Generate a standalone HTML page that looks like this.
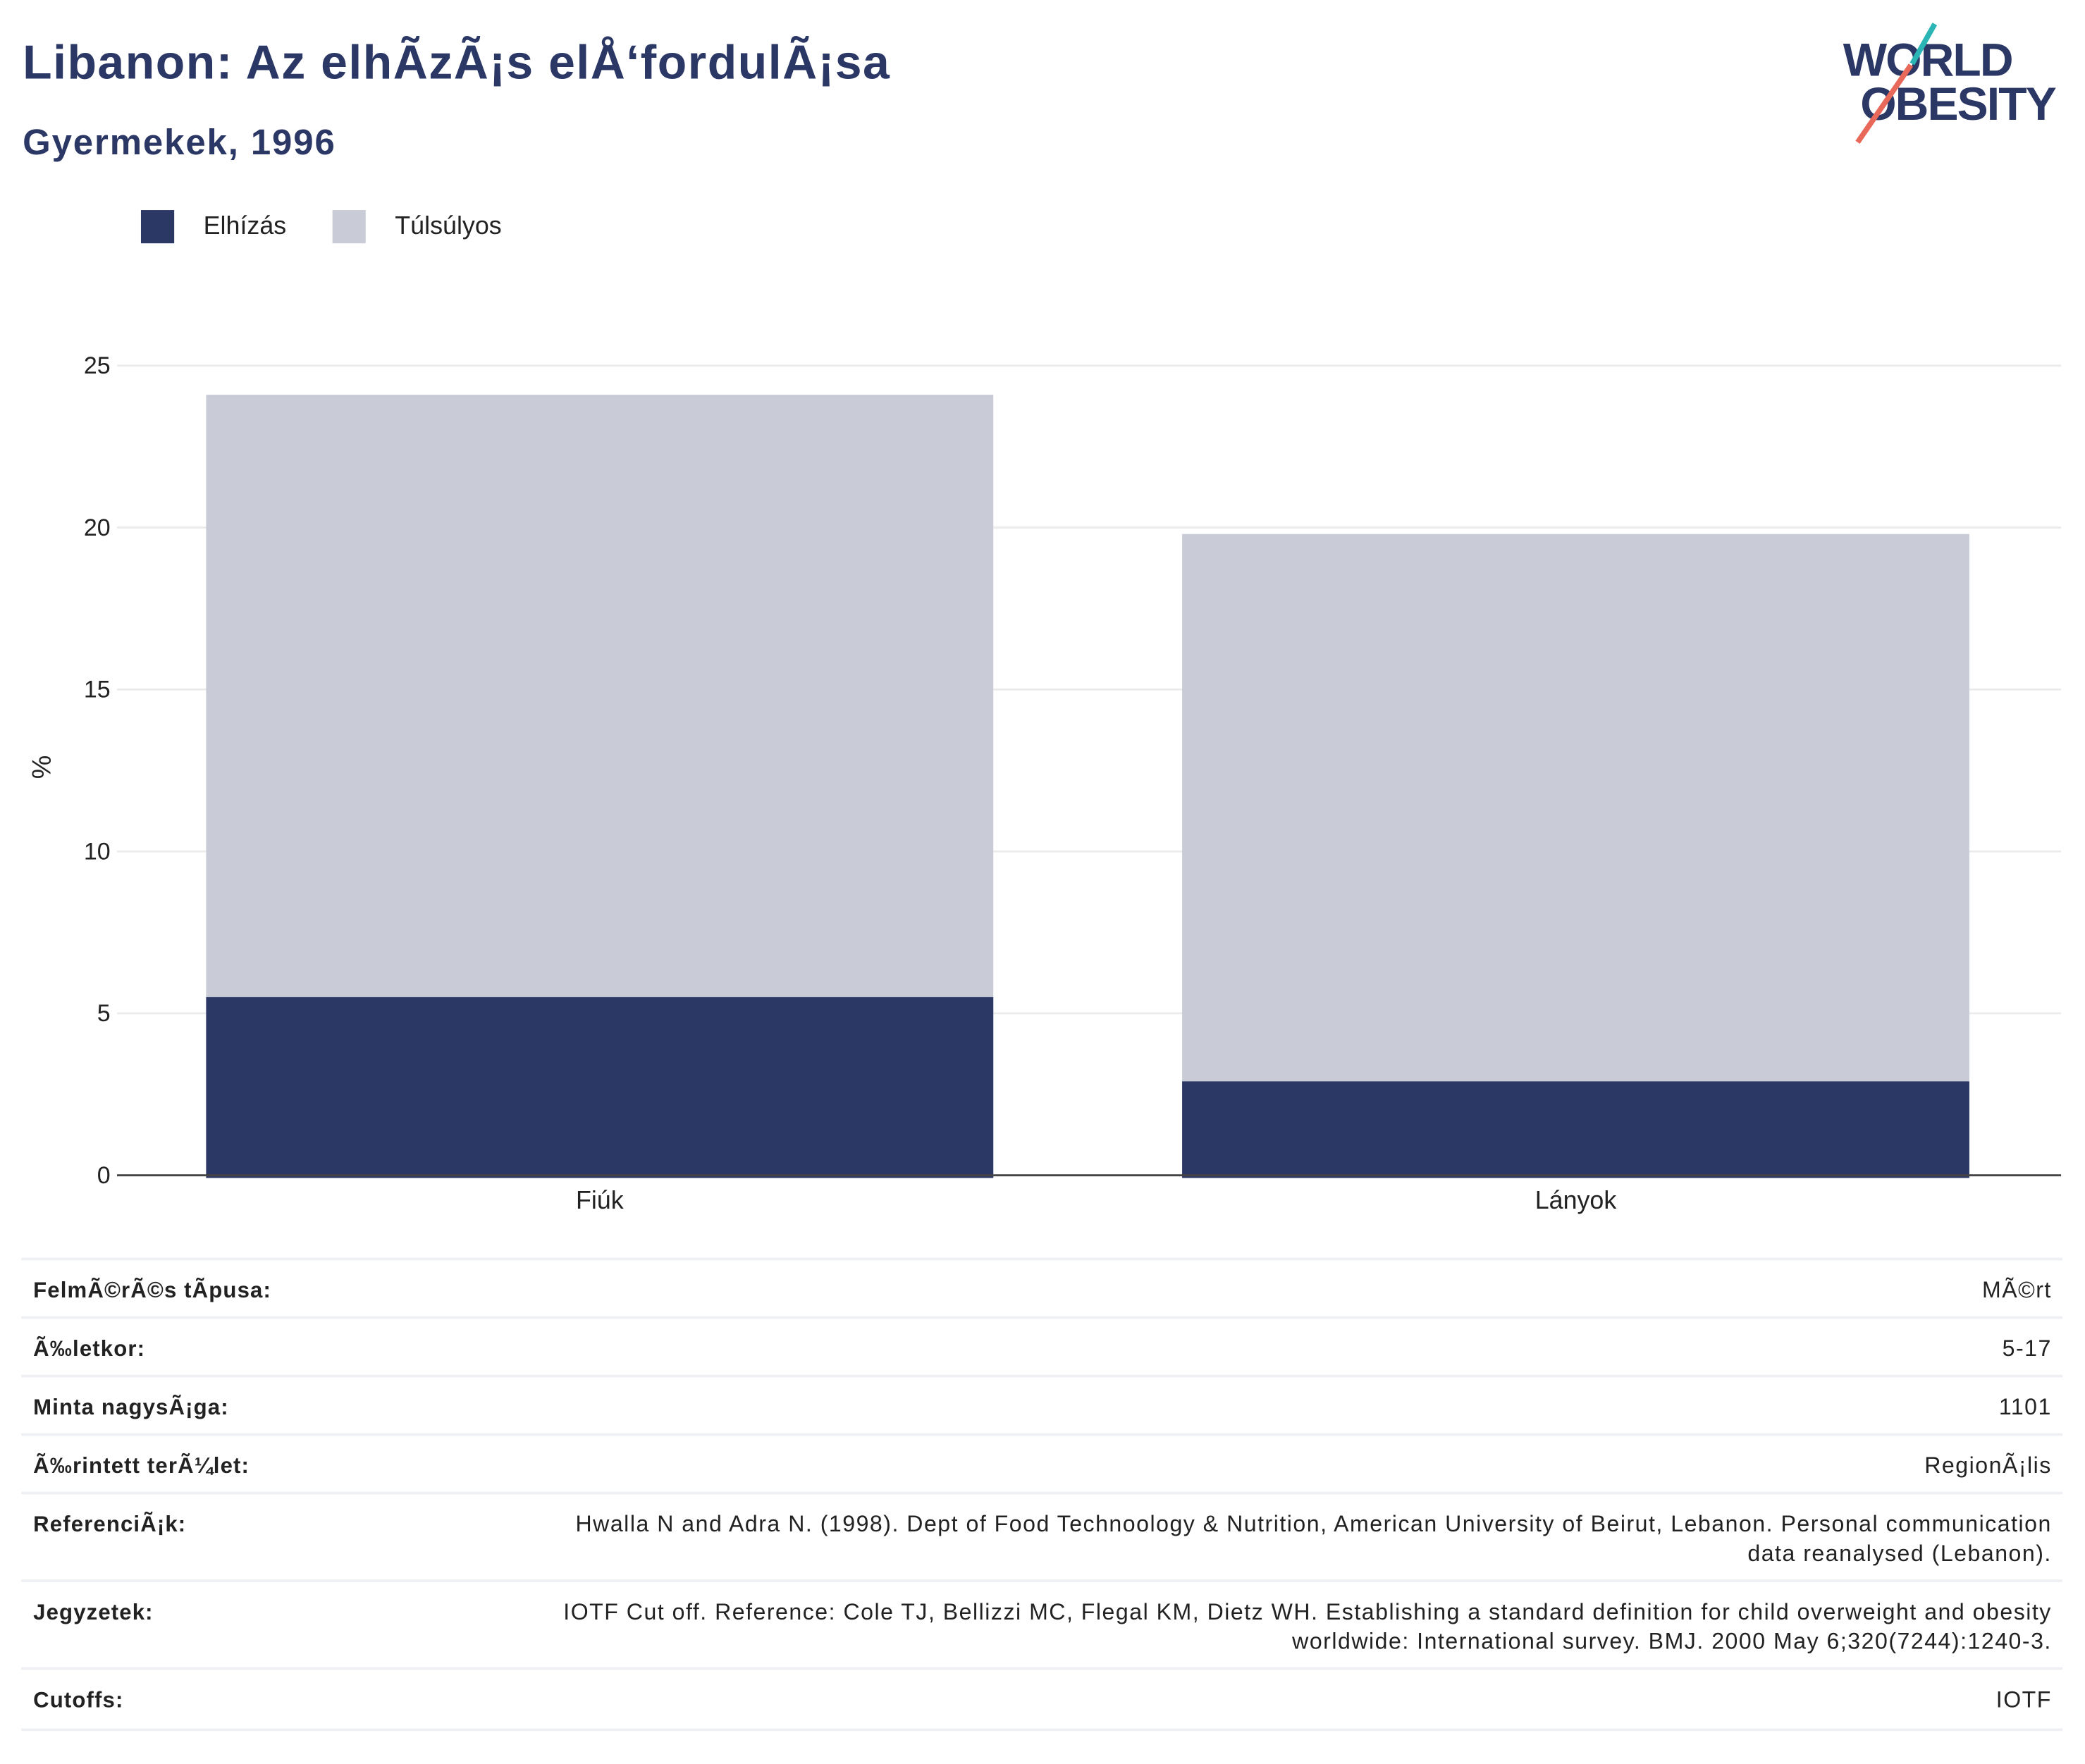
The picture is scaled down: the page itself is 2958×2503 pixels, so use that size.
<!DOCTYPE html>
<html><head><meta charset="utf-8"><style>
body{margin:0;background:#fff;width:2958px;height:2503px;overflow:hidden}
#w{width:1568px;height:1327px;transform:scale(1.8865);transform-origin:0 0;position:relative;font-family:"Liberation Sans",sans-serif;color:#222}
.a{position:absolute;white-space:nowrap}
.row{position:absolute;left:16px;width:1535px;border-top:2px solid #eef0f4}
.lab{position:absolute;left:9px;font-weight:bold;font-size:16.5px;letter-spacing:0.6px}
.val{position:absolute;right:8px;text-align:right;font-size:17px;line-height:22px;letter-spacing:0.8px}
</style></head><body><div id="w">
<div class="a" style="left:17px;top:26px;font-size:36px;font-weight:bold;color:#2b3764;letter-spacing:0.8px">Libanon: Az elhÃzÃ¡s elÅ‘fordulÃ¡sa</div>
<div class="a" style="left:17px;top:92px;font-size:27px;font-weight:bold;color:#2b3764;letter-spacing:1px">Gyermekek, 1996</div>
<div>
<div class="a" style="left:1386px;top:26px;font-size:35px;font-weight:bold;color:#2b3764;letter-spacing:-1px">WORLD</div>
<div class="a" style="left:1399px;top:59px;font-size:35px;font-weight:bold;color:#2b3764;letter-spacing:-1px">OBESITY</div>
<svg class="a" style="left:1390px;top:15px" width="70" height="95"><line x1="65" y1="3" x2="48" y2="33" stroke="#2bb5b5" stroke-width="4"/><line x1="47" y1="34" x2="7" y2="92" stroke="#e8685a" stroke-width="4"/></svg>
</div>
<div>
<div class="a" style="left:106px;top:158px"><span style="position:absolute;width:25px;height:25px;background:#2b3764"></span><span style="position:absolute;left:47px;top:2px;font-size:19px">Elhízás</span></div>
<div class="a" style="left:250px;top:158px"><span style="position:absolute;width:25px;height:25px;background:#c9ccd7"></span><span style="position:absolute;left:47px;top:2px;font-size:19px">Túlsúlyos</span></div>
</div>
<svg id="ch" class="a" style="left:0;top:240px" width="1560" height="690"></svg>
<div>
<div class="row" style="top:946px;height:44px"><div class="lab" style="top:14px">FelmÃ©rÃ©s tÃpusa:</div><div class="val" style="top:12px">MÃ©rt</div></div>
<div class="row" style="top:990px;height:44px"><div class="lab" style="top:14px">Ã‰letkor:</div><div class="val" style="top:12px">5-17</div></div>
<div class="row" style="top:1034px;height:44px"><div class="lab" style="top:14px">Minta nagysÃ¡ga:</div><div class="val" style="top:12px">1101</div></div>
<div class="row" style="top:1078px;height:44px"><div class="lab" style="top:14px">Ã‰rintett terÃ¼let:</div><div class="val" style="top:12px">RegionÃ¡lis</div></div>
<div class="row" style="top:1122px;height:66px"><div class="lab" style="top:14px">ReferenciÃ¡k:</div><div class="val" style="top:12px">Hwalla N and Adra N. (1998). Dept of Food Technoology &amp; Nutrition, American University of Beirut, Lebanon. Personal communication<br>data reanalysed (Lebanon).</div></div>
<div class="row" style="top:1188px;height:66px"><div class="lab" style="top:14px">Jegyzetek:</div><div class="val" style="top:12px">IOTF Cut off. Reference: Cole TJ, Bellizzi MC, Flegal KM, Dietz WH. Establishing a standard definition for child overweight and obesity<br>worldwide: International survey. BMJ. 2000 May 6;320(7244):1240-3.</div></div>
<div class="row" style="top:1254px;height:44px;border-bottom:2px solid #eef0f4"><div class="lab" style="top:14px">Cutoffs:</div><div class="val" style="top:12px">IOTF</div></div>
</div>
</div>
<script>
const categories=["Fiúk","Lányok"];
const obesity=[5.5,2.9];
const overweightTotal=[24.1,19.8];
const yTicks=[0,5,10,15,20,25];
const NS="http://www.w3.org/2000/svg";
const svg=document.getElementById('ch');
const y0=644,pxPer=24.36;
function y(v){return y0-v*pxPer;}
function bx(i){return 155+i*734;}
const bw=592;
function el(t,a){const e=document.createElementNS(NS,t);for(const k in a)e.setAttribute(k,a[k]);svg.appendChild(e);return e;}
yTicks.forEach(t=>{
  const g=el('line',{x1:88,x2:1550,y1:y(t),y2:y(t),stroke:'#ebebeb','stroke-width':1.5});
  
  
  const tx=el('text',{x:83,y:y(t)+6,'text-anchor':'end','font-size':18,fill:'#222','font-family':'Liberation Sans, sans-serif'});
  tx.textContent=t;
  
  
});
categories.forEach((c,i)=>{
  const r1=el('rect',{x:bx(i),y:y(overweightTotal[i]),width:bw,height:y(0)-y(overweightTotal[i])+2,fill:'#c9ccd7'});
  
  
  const r2=el('rect',{x:bx(i),y:y(obesity[i]),width:bw,height:y(0)-y(obesity[i])+2,fill:'#2b3764'});
  
  
  const t=el('text',{x:bx(i)+bw/2,y:y0+25,'text-anchor':'middle','font-size':19,fill:'#222','font-family':'Liberation Sans, sans-serif'});
  t.textContent=c;
  
  
});
const ax=el('line',{x1:88,x2:1550,y1:y0,y2:y0,stroke:'#444','stroke-width':1.5});


const yt=el('text',{x:38,y:337,'text-anchor':'middle','font-size':20,fill:'#222',transform:'rotate(-90 38 337)','font-family':'Liberation Sans, sans-serif'});
yt.textContent='%';


</script>
</body></html>
